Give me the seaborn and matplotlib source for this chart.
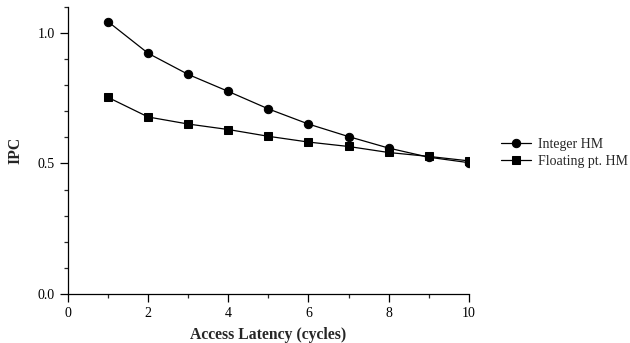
import matplotlib
matplotlib.use("Agg")
import matplotlib.pyplot as plt
import pandas as pd
import seaborn as sns
from matplotlib.ticker import MultipleLocator

# ---------------------------------------------------------------------------
# Data
# ---------------------------------------------------------------------------
latency = [1, 2, 3, 4, 5, 6, 7, 8, 9, 10]
ipc_integer = [1.043, 0.922, 0.841, 0.776, 0.709, 0.651, 0.603, 0.559, 0.524, 0.503]
ipc_float = [0.753, 0.678, 0.651, 0.630, 0.604, 0.582, 0.565, 0.542, 0.527, 0.510]
series_names = ["Integer HM", "Floating pt. HM"]

df = pd.concat(
    [
        pd.DataFrame({"latency": latency, "ipc": ipc_integer, "series": series_names[0]}),
        pd.DataFrame({"latency": latency, "ipc": ipc_float, "series": series_names[1]}),
    ],
    ignore_index=True,
)

# ---------------------------------------------------------------------------
# Style
# ---------------------------------------------------------------------------
sns.set_style("ticks")
plt.rcParams["font.family"] = ["Liberation Serif", "DejaVu Serif"]

fig = plt.figure(figsize=(6.3, 3.43), dpi=100)
ax = fig.add_axes([0.108, 0.143, 0.636, 0.837])

sns.lineplot(
    data=df,
    x="latency",
    y="ipc",
    hue="series",
    style="series",
    hue_order=series_names,
    style_order=series_names,
    palette=["black", "black"],
    markers=["o", "s"],
    dashes=False,
    markersize=6,
    markeredgecolor="black",
    linewidth=0.9,
    ax=ax,
    legend=False,
)

ax.set_xlim(0, 10)
ax.set_ylim(0, 1.1)
ax.xaxis.set_major_locator(MultipleLocator(2))
ax.xaxis.set_minor_locator(MultipleLocator(1))
ax.yaxis.set_major_locator(MultipleLocator(0.5))
ax.yaxis.set_minor_locator(MultipleLocator(0.1))
ax.yaxis.set_major_formatter(matplotlib.ticker.FormatStrFormatter("%.1f"))

ax.tick_params(which="major", length=6, width=0.9, labelsize=10, colors="black")
ax.tick_params(which="minor", length=3, width=0.9)
for side in ["left", "bottom"]:
    ax.spines[side].set_linewidth(0.9)
    ax.spines[side].set_color("black")
sns.despine(ax=ax)

ax.set_xlabel("Access Latency (cycles)", fontsize=11.3, fontweight="bold", labelpad=5)
ax.set_ylabel("IPC", fontsize=11.3, fontweight="bold", labelpad=10)

handles = ax.get_lines()[:2]
fig.legend(
    handles,
    series_names,
    loc="center left",
    bbox_to_anchor=(0.775, 0.554),
    frameon=False,
    fontsize=10,
    handlelength=2.2,
    handletextpad=0.5,
    labelspacing=0.3,
)

fig.savefig("out.png", dpi=100)
